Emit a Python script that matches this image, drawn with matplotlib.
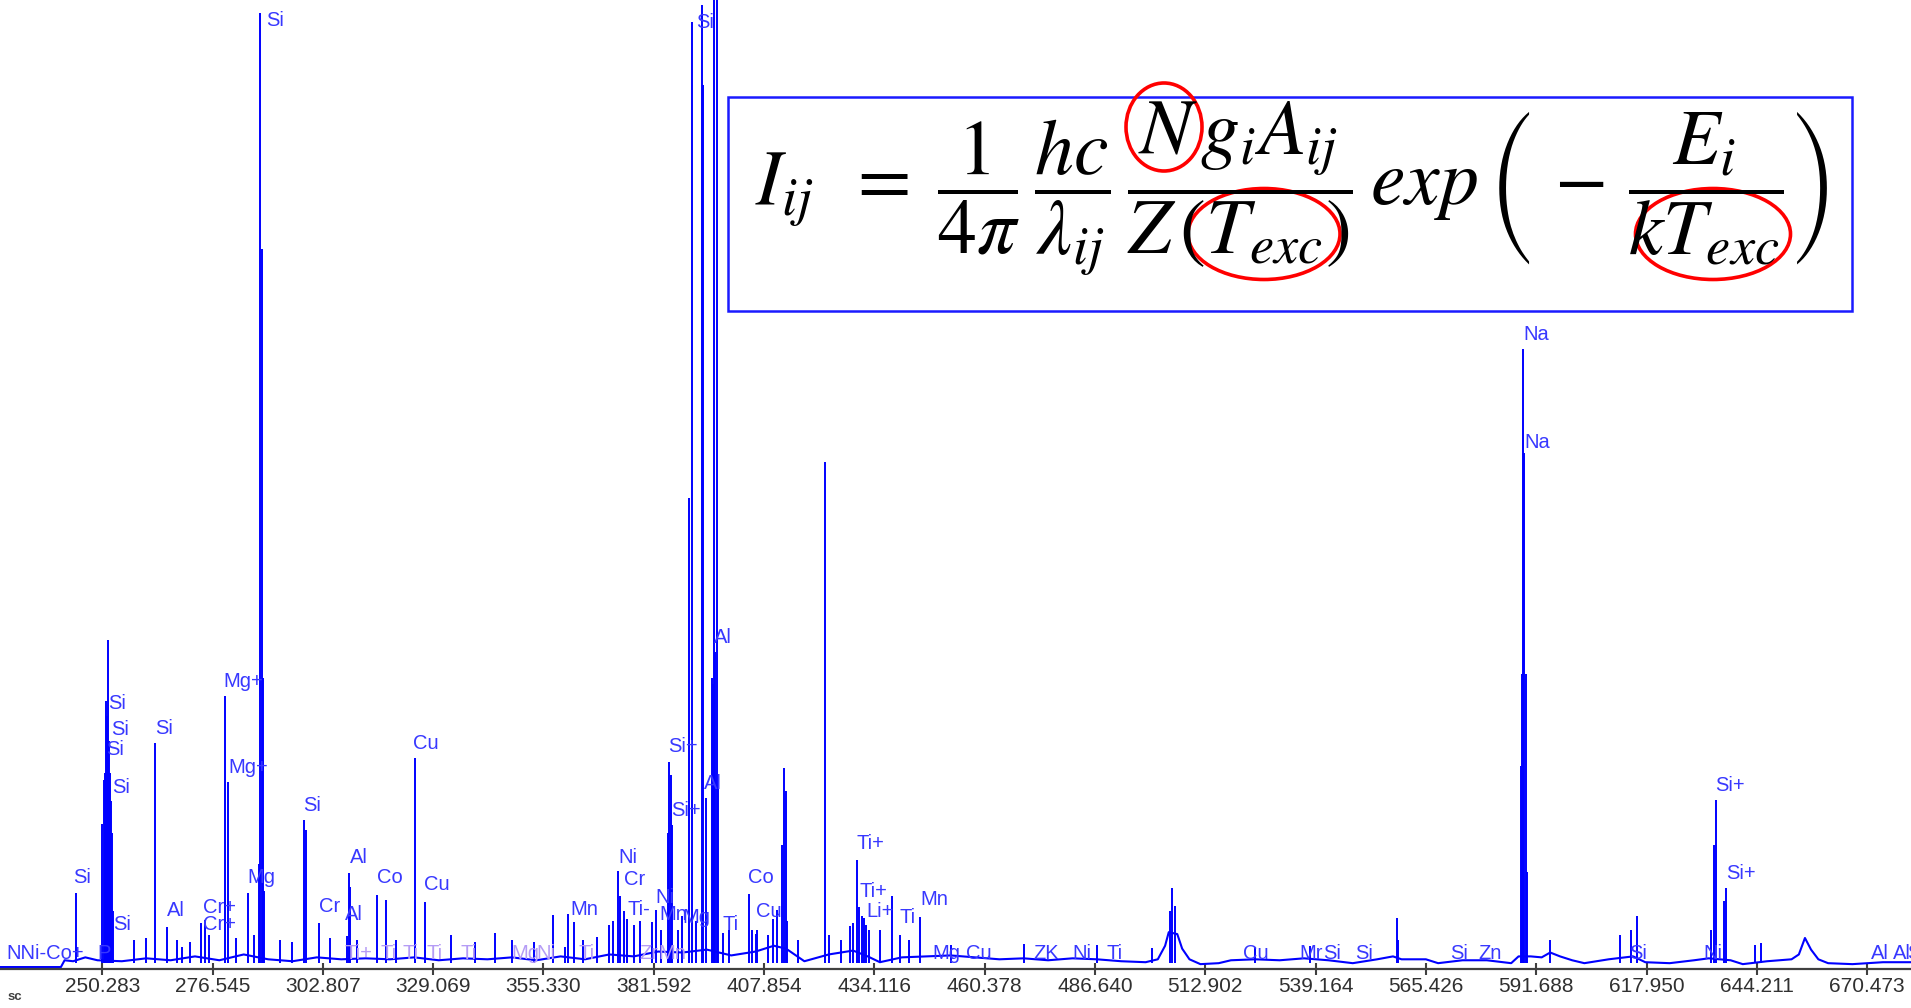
import matplotlib
matplotlib.use('Agg')
import matplotlib.pyplot as plt
from matplotlib.patches import Ellipse, Rectangle

plt.rcParams['font.family'] = ['Liberation Sans', 'DejaVu Sans']
plt.rcParams['mathtext.fontset'] = 'stix'

# x axis ticks (wavelength, nm)
tick_values = [250.283, 276.545, 302.807, 329.069, 355.330, 381.592, 407.854, 434.116, 460.378,
               486.640, 512.902, 539.164, 565.426, 591.688, 617.950, 644.211, 670.473]
tick_labels = ['250.283', '276.545', '302.807', '329.069', '355.330', '381.592', '407.854', '434.116',
               '460.378', '486.640', '512.902', '539.164', '565.426', '591.688', '617.950', '644.211',
               '670.473']

# continuum / baseline of the spectrum (nm, intensity %)
base_nm = [225.93, 240.43, 241.31, 243.34, 246.24, 249.14, 254.94, 260.75, 266.55, 272.35, 278.16,
           283.96, 289.76, 295.57, 301.37, 307.17, 312.98, 318.78, 324.58, 330.39, 336.19, 341.99,
           347.80, 353.60, 359.40, 365.21, 371.01, 376.81, 382.62, 388.42, 394.22, 400.03, 405.83,
           410.18, 413.08, 417.44, 423.24, 429.04, 432.53, 435.42, 440.65, 446.46, 452.26, 458.06,
           463.87, 469.67, 475.47, 481.28, 487.08, 492.88, 498.69, 501.59, 503.33, 504.20, 506.23,
           507.39, 509.13, 511.74, 516.10, 519.00, 524.80, 530.60, 536.41, 542.21, 548.01, 553.82,
           557.59, 559.62, 565.42, 568.33, 574.13, 579.93, 585.73, 587.48, 590.38, 592.99, 595.02,
           597.36, 600.25, 603.15, 608.95, 614.76, 617.66, 623.46, 629.26, 632.75, 637.97, 640.87,
           646.67, 652.48, 654.22, 655.67, 657.12, 658.86, 661.18, 666.98, 674.24, 680.92]
base_int = [0.2, 0.2, 0.9, 0.8, 1.2, 0.9, 0.8, 1.1, 0.9, 1.3, 0.9,
            1.5, 1.0, 0.8, 1.2, 1.0, 1.1, 1.0, 1.2, 0.9, 1.1, 1.0,
            1.2, 0.9, 1.3, 1.0, 1.5, 1.3, 1.8, 1.7, 2.0, 1.4, 1.8,
            2.4, 2.1, 0.8, 1.5, 1.9, 1.3, 0.7, 1.2, 1.3, 1.4, 1.2,
            1.0, 1.1, 0.9, 1.1, 1.0, 0.8, 0.7, 1.0, 2.4, 3.8, 3.6,
            2.1, 1.0, 0.5, 0.6, 0.9, 1.0, 0.9, 1.1, 0.9, 0.6, 1.0,
            1.3, 1.0, 1.0, 0.6, 0.9, 0.9, 0.6, 1.3, 1.3, 1.2, 1.7,
            1.3, 0.9, 0.6, 1.0, 1.3, 0.7, 0.6, 0.9, 1.1, 0.9, 0.5,
            0.8, 1.0, 1.5, 3.2, 2.0, 1.0, 0.6, 0.5, 0.7, 0.7]

# emission lines (nm, intensity %)
peak_nm = [243.92, 250.30, 250.59, 250.88, 251.17, 251.40, 251.58, 251.81, 252.04, 252.33, 252.62,
           252.91, 257.85, 260.75, 262.78, 265.68, 268.00, 269.25, 271.19, 273.80, 274.67, 275.69,
           279.49, 280.18, 282.07, 285.00, 286.51, 287.59, 287.82, 288.31, 288.60, 288.89, 292.66,
           295.57, 298.35, 298.76, 301.95, 304.56, 308.62, 309.09, 309.38, 310.95, 315.76, 317.82,
           320.23, 324.73, 327.11, 333.29, 339.09, 343.73, 347.80, 353.02, 357.66, 360.45, 361.14,
           362.59, 364.63, 368.11, 371.01, 371.88, 373.04, 373.62, 374.49, 375.13, 376.81, 378.26,
           381.16, 382.04, 383.20, 384.94, 385.23, 385.66, 385.90, 387.26, 388.42, 390.05, 390.60,
           391.61, 393.01, 393.36, 393.94, 395.39, 395.68, 395.97, 396.26, 396.55, 396.84, 398.00,
           399.45, 404.26, 404.96, 405.83, 406.12, 408.73, 410.04, 410.86, 412.10, 412.62, 413.00,
           413.37, 415.98, 422.37, 423.24, 426.14, 428.32, 429.04, 430.03, 430.49, 431.07, 431.65,
           432.23, 432.81, 435.42, 438.33, 440.22, 442.39, 445.00, 452.26, 469.67, 487.08, 500.13,
           504.48, 505.07, 505.65, 524.80, 537.86, 558.46, 558.75, 588.06, 588.35, 588.64, 588.87,
           589.22, 589.51, 595.02, 611.56, 614.18, 615.63, 633.33, 634.05, 634.43, 636.37, 636.81,
           643.77, 645.22]
peak_int = [7.8, 15.0, 19.5, 20.2, 27.7, 26.1, 34.0, 23.5, 20.2, 17.3, 14.0,
            6.0, 3.0, 3.2, 23.3, 4.3, 3.0, 2.3, 2.8, 4.7, 5.1, 3.5,
            28.2, 19.3, 3.2, 7.8, 3.5, 10.8, 98.7, 74.3, 30.0, 8.0, 3.0,
            2.8, 15.4, 14.3, 4.7, 3.2, 3.4, 9.9, 8.5, 3.0, 7.6, 7.1,
            3.0, 21.8, 6.9, 3.5, 2.8, 3.7, 3.0, 2.8, 5.6, 2.3, 5.7,
            4.8, 3.0, 3.3, 4.5, 5.0, 10.1, 7.5, 6.0, 5.2, 4.5, 5.0,
            4.8, 6.1, 4.0, 14.0, 21.4, 20.0, 14.9, 4.0, 5.5, 48.6, 97.7,
            5.0, 99.5, 91.2, 17.6, 30.0, 29.4, 105.0, 32.7, 110.0, 20.0, 3.7,
            4.0, 7.7, 4.0, 3.6, 4.0, 3.5, 5.2, 6.1, 12.8, 20.7, 18.4,
            5.0, 3.0, 52.3, 3.5, 3.0, 4.4, 4.7, 11.2, 6.4, 5.5, 5.3,
            4.5, 4.0, 4.0, 7.5, 3.5, 3.0, 5.4, 2.5, 2.6, 2.5, 2.2,
            6.0, 8.4, 6.5, 2.3, 2.4, 5.3, 3.0, 21.0, 30.4, 64.0, 53.2,
            30.4, 10.0, 3.0, 3.5, 4.0, 5.5, 4.0, 12.8, 17.4, 7.0, 8.4,
            2.5, 2.7]

# line identifications
label_text = ['Si', 'Si', 'Na', 'Na', 'Al', 'Si+', 'Si+', 'Al', 'Cu', 'Mg+', 'Mg+', 'Si', 'Si', 'Si',
              'Si', 'Si', 'Si', 'Al', 'Co', 'Cu', 'Mg', 'Cr', 'Al', 'Si', 'Al', 'Cr+', 'Cr+', 'Si',
              'Ni', 'Cr', 'Ti-', 'Ni', 'Mn', 'Mn', 'Co', 'Cu', 'Ti', 'Mg', 'Ti+', 'Ti+', 'Li+', 'Ti',
              'Mn', 'Si+', 'Si+',
              'NNi-Co+', 'P', 'Mg', 'Cu', 'ZK', 'Ni', 'Ti', 'Cu', 'Mr', 'Si', 'Si', 'Si', 'Zn', 'Si',
              'Ni', 'Al', 'Al', 'Si']
label_nm = [289.18, 391.61, 588.64, 588.93, 395.97, 384.94, 385.81, 393.65, 324.29, 279.03, 280.19,
            251.75, 252.33, 251.17, 252.62, 262.78, 298.18, 309.20, 315.58, 326.91, 284.83, 301.95,
            308.04, 243.34, 265.68, 274.38, 274.38, 252.91, 373.04, 374.49, 375.36, 382.04, 382.91,
            361.72, 404.09, 405.83, 398.00, 388.42, 429.91, 430.49, 432.23, 440.07, 445.00, 634.19,
            636.81,
            227.38, 249.14, 447.91, 456.03, 471.99, 481.28, 489.40, 521.90, 535.25, 541.05, 548.60,
            571.23, 577.90, 613.89, 631.59, 671.34, 676.57, 680.06]
label_int = [97.9, 97.7, 65.5, 54.3, 34.25, 23.0, 16.4, 19.1, 23.3, 29.7, 20.8,
             27.35, 24.7, 22.6, 18.7, 24.8, 16.9, 11.5, 9.4, 8.7, 9.4, 6.4,
             5.6, 9.4, 6.0, 6.3, 4.6, 4.6, 11.5, 9.2, 6.1, 7.4, 5.6,
             6.1, 9.4, 5.9, 4.6, 5.3, 12.9, 8.0, 5.9, 5.3, 7.2, 18.9,
             9.9,
             1.6, 1.6, 1.6, 1.6, 1.6, 1.6, 1.6, 1.6, 1.6, 1.6, 1.6,
             1.6, 1.6, 1.6, 1.6, 1.6, 1.6, 1.6]

# faint labels crowded on the continuum
faint_text = ['Ti+', 'Ti', 'Ti', 'Ti', 'Ti', 'Mg', 'Ni', 'Ti', 'Zr', 'Mn']
faint_nm = [308.04, 316.46, 321.68, 327.48, 335.61, 347.80, 353.60, 363.76, 378.26, 382.62]

fig = plt.figure(figsize=(19.11, 10.08), dpi=100)
ax = fig.add_axes([0, 0.0387, 1, 0.9613])

ax.plot(base_nm, base_int, color='#0000ff', lw=1.5)
ax.vlines(peak_nm, 0.6, peak_int, color='#0000ff', lw=1.4)

for t, x, y in zip(label_text, label_nm, label_int):
    ax.text(x, y, t, color='#3838ff', fontsize=14.5, ha='left', va='center')
for t, x in zip(faint_text, faint_nm):
    ax.text(x, 1.6, t, color='#b59cf5', fontsize=14.5, ha='left', va='center')

ax.set_xlim(225.93, 680.92)
ax.set_ylim(0, 100)
for s in ['left', 'right', 'top']:
    ax.spines[s].set_visible(False)
ax.spines['bottom'].set_color('#404040')
ax.spines['bottom'].set_linewidth(1.6)
ax.set_yticks([])
ax.set_xticks(tick_values)
ax.set_xticklabels(tick_labels, fontsize=15, color='#303030')
ax.tick_params(axis='x', direction='inout', length=8, width=1.5, color='#404040', pad=2)

fig.text(0.0037, 0.008, 'sc', fontsize=9.5, color='#404040', weight='bold')

# equation box
fig.add_artist(Rectangle((0.3807, 0.6917), 0.5886, 0.2116, transform=fig.transFigure,
                         facecolor='white', edgecolor='#1a1aff', lw=1.8))
eq = (r'$I_{ij}\;\;=\;\dfrac{1}{4\pi}\,\dfrac{hc}{\lambda_{ij}}\,\dfrac{N\,g_iA_{ij}}{Z\,(T_{exc})}'
      r'\,exp\,\left(\,-\,\dfrac{E_i}{kT_{exc}}\right)$')
fig.text(0.676, 0.8125, eq, fontsize=56, ha='center', va='center', color='black')

for cx, cy, w, h in [(1164, 127, 76, 88), (1264, 234, 152, 91), (1713, 234, 155, 91)]:
    fig.add_artist(Ellipse((cx / 1911, 1 - cy / 1008), w / 1911, h / 1008,
                           transform=fig.transFigure, fill=False, edgecolor='#ff0000', lw=2.6))

fig.savefig('out.png', dpi=100)
